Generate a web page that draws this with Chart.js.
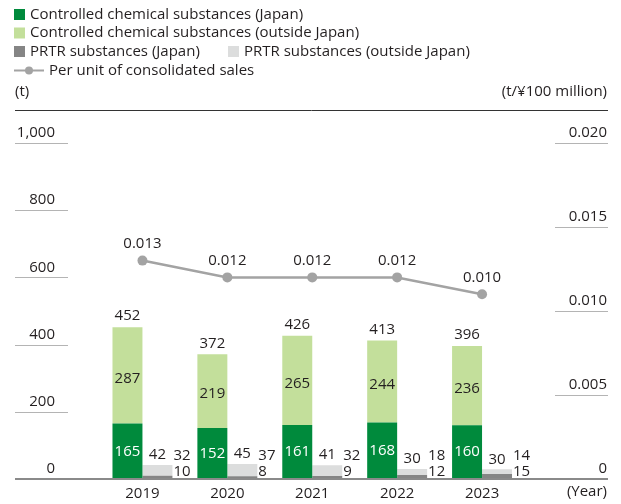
<!DOCTYPE html>
<html>
<head>
<meta charset="utf-8">
<script src="https://cdn.jsdelivr.net/npm/chart.js@4.4.1/dist/chart.umd.min.js"></script>
<style>
    html, body { margin: 0; padding: 0; background: #fff; }
    #wrap { width: 621px; height: 504px; }
</style>
</head>
<body>
<div id="wrap"><canvas id="chart-substances"></canvas></div>
<script>
// ===== DATA =====
const years          = ['2019', '2020', '2021', '2022', '2023'];
const ccJapan        = [165, 152, 161, 168, 160];
const ccOutside      = [287, 219, 265, 244, 236];
const ccTotals       = [452, 372, 426, 413, 396];
const prtrJapan      = [10, 8, 9, 12, 15];
const prtrOutside    = [32, 37, 32, 18, 14];
const prtrTotals     = [42, 45, 41, 30, 30];
const perSales       = [0.013, 0.012, 0.012, 0.012, 0.011];
const perSalesLabels = ['0.013', '0.012', '0.012', '0.012', '0.010'];
const leftTicks      = [0, 200, 400, 600, 800, 1000];
const rightTicks     = [0, 0.005, 0.010, 0.015, 0.020];

// ===== STYLE =====
const FONT      = '"Open Sans", sans-serif';
const TEXT      = '#231f20';
const GREEN     = '#008a3c';
const LIGHT     = '#c3df9b';
const GRAY      = '#858585';
const LIGHTGRAY = '#dcdddd';
const LINE      = '#a3a3a3';

function text(ctx, str, x, y, align, color) {
    ctx.fillStyle = color || TEXT;
    ctx.textAlign = align || 'center';
    ctx.textBaseline = 'middle';
    ctx.fillText(str, x, y);
}

function segment(ctx, x1, x2, py) {
    ctx.beginPath();
    ctx.moveTo(x1, py);
    ctx.lineTo(x2, py);
    ctx.stroke();
}

// ===== PLUGIN — grid, baseline, labels, legend =====
const decorations = {
    id: 'decorations',
    beforeDatasetsDraw(chart) {
        const { ctx } = chart;
        const y  = chart.scales.y;
        const y1 = chart.scales.y1;
        ctx.save();
        ctx.strokeStyle = '#b4b4b4';
        ctx.lineWidth = 1;
        leftTicks.forEach(v => {
            if (v === 0) return;
            segment(ctx, 15, 68, Math.round(y.getPixelForValue(v)) + 0.5);
        });
        rightTicks.forEach(v => {
            if (v === 0) return;
            segment(ctx, 555, 608, Math.round(y1.getPixelForValue(v)) + 0.5);
        });
        ctx.restore();
    },
    afterDatasetsDraw(chart) {
        const { ctx } = chart;
        const y = chart.scales.y;
        ctx.save();

        // baseline
        const py0 = y.getPixelForValue(0);
        ctx.strokeStyle = '#8a8a8a';
        ctx.lineWidth = 2;
        segment(ctx, 15, 608, py0);

        ctx.font = '15px ' + FONT;
        const mJ  = chart.getDatasetMeta(0).data;
        const mO  = chart.getDatasetMeta(1).data;
        const mPJ = chart.getDatasetMeta(2).data;
        const mPO = chart.getDatasetMeta(3).data;
        const mL  = chart.getDatasetMeta(4).data;

        years.forEach((_, i) => {
            const j = mJ[i], o = mO[i];
            text(ctx, ccJapan[i], j.x, (j.y + j.base) / 2, 'center', '#fff');
            text(ctx, ccOutside[i], o.x, (o.y + o.base) / 2 + 3, 'center');
            text(ctx, ccTotals[i], o.x, o.y - 11, 'center');

            const pj = mPJ[i], po = mPO[i];
            text(ctx, prtrTotals[i], po.x, po.y - 10, 'center');
            const rx = po.x + po.width / 2 + 1;
            text(ctx, prtrOutside[i], rx, pj.base - 23, 'left');
            text(ctx, prtrJapan[i], rx, pj.base - 7.5, 'left');

            const p = mL[i];
            text(ctx, perSalesLabels[i], p.x, p.y - 16.5, 'center');
        });
        ctx.restore();
    },
    afterDraw(chart) {
        const { ctx } = chart;
        ctx.save();
        ctx.font = '15px ' + FONT;

        // legend
        ctx.fillStyle = GREEN;     ctx.fillRect(14, 9, 11, 11);
        text(ctx, 'Controlled chemical substances (Japan)', 30, 15, 'left');
        ctx.fillStyle = LIGHT;     ctx.fillRect(14, 27.5, 11, 11);
        text(ctx, 'Controlled chemical substances (outside Japan)', 30, 33, 'left');
        ctx.fillStyle = GRAY;      ctx.fillRect(14, 46, 11, 11);
        text(ctx, 'PRTR substances (Japan)', 30, 52, 'left');
        ctx.fillStyle = LIGHTGRAY; ctx.fillRect(228, 46, 11, 11);
        text(ctx, 'PRTR substances (outside Japan)', 244, 52, 'left');
        ctx.strokeStyle = LINE; ctx.lineWidth = 2;
        segment(ctx, 14, 44, 70.5);
        ctx.fillStyle = LINE;
        ctx.beginPath(); ctx.arc(29, 70.5, 4, 0, Math.PI * 2); ctx.fill();
        text(ctx, 'Per unit of consolidated sales', 49, 70.5, 'left');

        // units
        text(ctx, '(t)', 15, 92, 'left');
        text(ctx, '(t/¥100 million)', 607, 92, 'right');
        text(ctx, '(Year)', 607, 492, 'right');

        // top rule
        ctx.strokeStyle = '#333';
        ctx.lineWidth = 1;
        segment(ctx, 15, 608, 110.5);
        ctx.restore();
    }
};

// ===== CHART =====
const ctx = document.getElementById('chart-substances').getContext('2d');
new Chart(ctx, {
    type: 'bar',
    data: {
        labels: years,
        datasets: [
            { data: ccJapan,     backgroundColor: GREEN,     stack: 'cc',   order: 2 },
            { data: ccOutside,   backgroundColor: LIGHT,     stack: 'cc',   order: 2 },
            { data: prtrJapan,   backgroundColor: GRAY,      stack: 'prtr', order: 2 },
            { data: prtrOutside, backgroundColor: LIGHTGRAY, stack: 'prtr', order: 2 },
            {
                type:                 'line',
                data:                 perSales,
                yAxisID:              'y1',
                borderColor:          LINE,
                borderWidth:          2.5,
                pointBackgroundColor: LINE,
                pointBorderWidth:     0,
                pointRadius:          5,
                order:                1,
            }
        ]
    },
    options: {
        responsive: true,
        maintainAspectRatio: false,
        animation: false,
        categoryPercentage: 0.706,
        barPercentage: 1,
        layout: { padding: { top: 143, right: 14, bottom: 0, left: 0 } },
        plugins: { legend: { display: false }, tooltip: { enabled: false } },
        scales: {
            x: {
                stacked: true,
                grid: { display: false, drawTicks: false },
                border: { display: false },
                ticks: { color: TEXT, font: { family: FONT, size: 15 }, padding: 6 },
                afterFit: s => { s.height = 25; }
            },
            y: {
                stacked: true,
                position: 'left',
                min: 0, max: 1000,
                grid: { display: false, drawTicks: false },
                border: { display: false },
                afterBuildTicks: s => { s.ticks = leftTicks.map(v => ({ value: v })); },
                ticks: {
                    color: TEXT, font: { family: FONT, size: 15 },
                    padding: 45, labelOffset: -10,
                    callback: v => v.toLocaleString('en-US')
                },
                afterFit: s => { s.width = 100; s.paddingTop = 0; s.paddingBottom = 0; }
            },
            y1: {
                position: 'right',
                min: 0, max: 0.02,
                grid: { display: false, drawTicks: false },
                border: { display: false },
                afterBuildTicks: s => { s.ticks = rightTicks.map(v => ({ value: v })); },
                ticks: {
                    color: TEXT, font: { family: FONT, size: 15 },
                    crossAlign: 'far', labelOffset: -10,
                    callback: v => v === 0 ? '0' : v.toFixed(3)
                },
                afterFit: s => { s.width = 82.5; s.paddingTop = 0; s.paddingBottom = 0; }
            }
        }
    },
    plugins: [decorations]
});
</script>
</body>
</html>
